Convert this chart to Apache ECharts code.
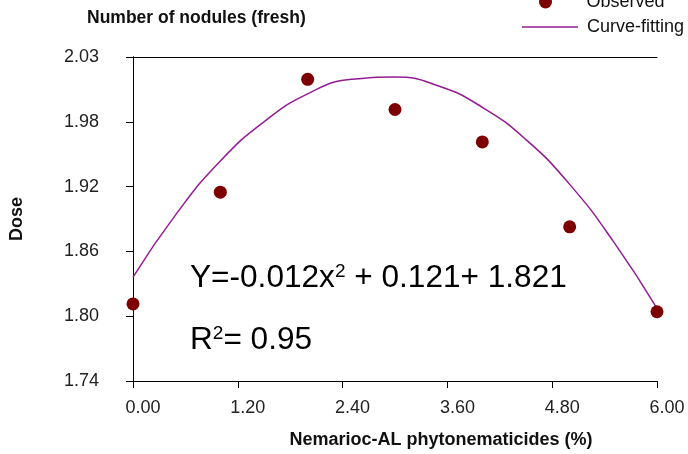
<!DOCTYPE html>
<html>
<head>
<meta charset="utf-8">
<script src="https://cdn.jsdelivr.net/npm/echarts@6/dist/echarts.min.js"></script>
<style>
html,body{margin:0;padding:0;background:#fff;}
#chart{width:688px;height:454px;}
</style>
</head>
<body>
<div id="chart"></div>
<script>
// ---- data ----
const xValues = [0, 1, 2, 3, 4, 5, 6];
const observed = [1.809, 1.909, 2.010, 1.983, 1.954, 1.878, 1.802];
const curveX = [0, 0.5, 1, 1.5, 2, 2.5, 3, 3.5, 4, 4.5, 5, 5.5, 6];
const curveY = [1.833, 1.890, 1.937, 1.972, 1.997, 2.010, 2.012, 2.004, 1.985, 1.956, 1.916, 1.865, 1.805];
const xTickLabels = ['0.00', '1.20', '2.40', '3.60', '4.80', '6.00'];
const yTickLabels = ['1.74', '1.80', '1.86', '1.92', '1.98', '2.03'];
const titleText = 'Number of nodules (fresh)';
const xName = 'Nemarioc-AL phytonematicides (%)';
const yName = 'Dose';
const seriesNames = ['Observed', 'Curve-fitting'];

const FONT = 'Liberation Sans, Arial, sans-serif';
const yMin = 1.74, yMax = 2.03, yStep = 0.058;
const xMin = 0, xMax = 6, xStep = 1.2;
const dotColor = '#7d0000';
const curveColor = '#951b95';

const chart = echarts.init(document.getElementById('chart'), null, {renderer: 'canvas'});

const axisLineStyle = {show: true, lineStyle: {color: '#000', width: 1}};

chart.setOption({
  animation: false,
  backgroundColor: '#fff',
  title: {
    text: titleText, left: 87, top: 9, padding: 0,
    textStyle: {fontFamily: FONT, fontSize: 17.5, fontWeight: 'bold', color: '#111'}
  },
  legend: [
    {
      data: [{name: seriesNames[0], icon: 'circle'}],
      left: 539, top: -7, padding: 0,
      itemWidth: 26, itemHeight: 13,
      textStyle: {fontFamily: FONT, fontSize: 18, color: '#111', padding: [0, 0, 0, 23]}
    },
    {
      data: [{name: seriesNames[1], icon: 'rect', itemStyle: {color: curveColor}}],
      left: 522, top: 18, padding: 0,
      itemWidth: 56, itemHeight: 1.5,
      textStyle: {fontFamily: FONT, fontSize: 18, color: '#111', padding: [0, 0, 0, 4]}
    }
  ],
  grid: {left: 133, right: 31, top: 57, bottom: 73, containLabel: false},
  xAxis: [
    {
      type: 'value', min: xMin, max: xMax, interval: xStep, position: 'bottom',
      axisLine: axisLineStyle,
      axisTick: {show: true, inside: false, length: 7, lineStyle: {color: '#000'}},
      axisLabel: {
        margin: 18, fontFamily: FONT, fontSize: 18, color: '#222',
        padding: [0, 0, 0, 20],
        formatter: v => xTickLabels[Math.round((v - xMin) / xStep)]
      },
      splitLine: {show: false},
      name: xName, nameLocation: 'middle', nameGap: 50,
      nameTextStyle: {fontFamily: FONT, fontSize: 18, fontWeight: 'bold', color: '#111', padding: [0, 0, 0, 92]}
    },
    {
      type: 'value', min: xMin, max: xMax, position: 'top',
      axisLine: axisLineStyle, axisTick: {show: false}, axisLabel: {show: false}, splitLine: {show: false}
    }
  ],
  yAxis: [
    {
      type: 'value', min: yMin, max: yMax, interval: yStep, position: 'left', offset: 16,
      axisLine: axisLineStyle,
      axisTick: {show: true, inside: false, length: 7, lineStyle: {color: '#000'}},
      axisLabel: {
        margin: 18, fontFamily: FONT, fontSize: 18, color: '#222',
        formatter: v => yTickLabels[Math.round((v - yMin) / yStep)]
      },
      splitLine: {show: false},
      name: yName, nameLocation: 'middle', nameRotate: 90, nameGap: 91,
      nameTextStyle: {fontFamily: FONT, fontSize: 18, fontWeight: 'bold', color: '#111'}
    },
    {
      type: 'value', min: yMin, max: yMax, position: 'right',
      axisLine: axisLineStyle, axisTick: {show: false}, axisLabel: {show: false}, splitLine: {show: false}
    }
  ],
  series: [
    {
      name: seriesNames[1], type: 'line', smooth: true, symbol: 'none',
      lineStyle: {color: curveColor, width: 1.5},
      itemStyle: {color: curveColor},
      data: curveX.map((x, i) => [x, curveY[i]]),
      z: 2
    },
    {
      name: seriesNames[0], type: 'scatter', symbol: 'circle', symbolSize: 13,
      itemStyle: {color: dotColor, opacity: 1},
      data: xValues.map((x, i) => [x, observed[i]]),
      z: 3
    }
  ],
  graphic: [
    {
      type: 'text', left: 190, top: 262,
      style: {
        text: 'Y=-0.012x{sup|2} + 0.121+ 1.821',
        font: '31.6px ' + FONT, fill: '#000',
        rich: {sup: {font: '19px ' + FONT, fill: '#000', verticalAlign: 'top', padding: [0, 0, 14, 0]}}
      }
    },
    {
      type: 'text', left: 190, top: 324,
      style: {
        text: 'R{sup|2}= 0.95',
        font: '31.6px ' + FONT, fill: '#000',
        rich: {sup: {font: '19px ' + FONT, fill: '#000', verticalAlign: 'top', padding: [0, 0, 14, 0]}}
      }
    }
  ]
});
</script>
</body>
</html>
